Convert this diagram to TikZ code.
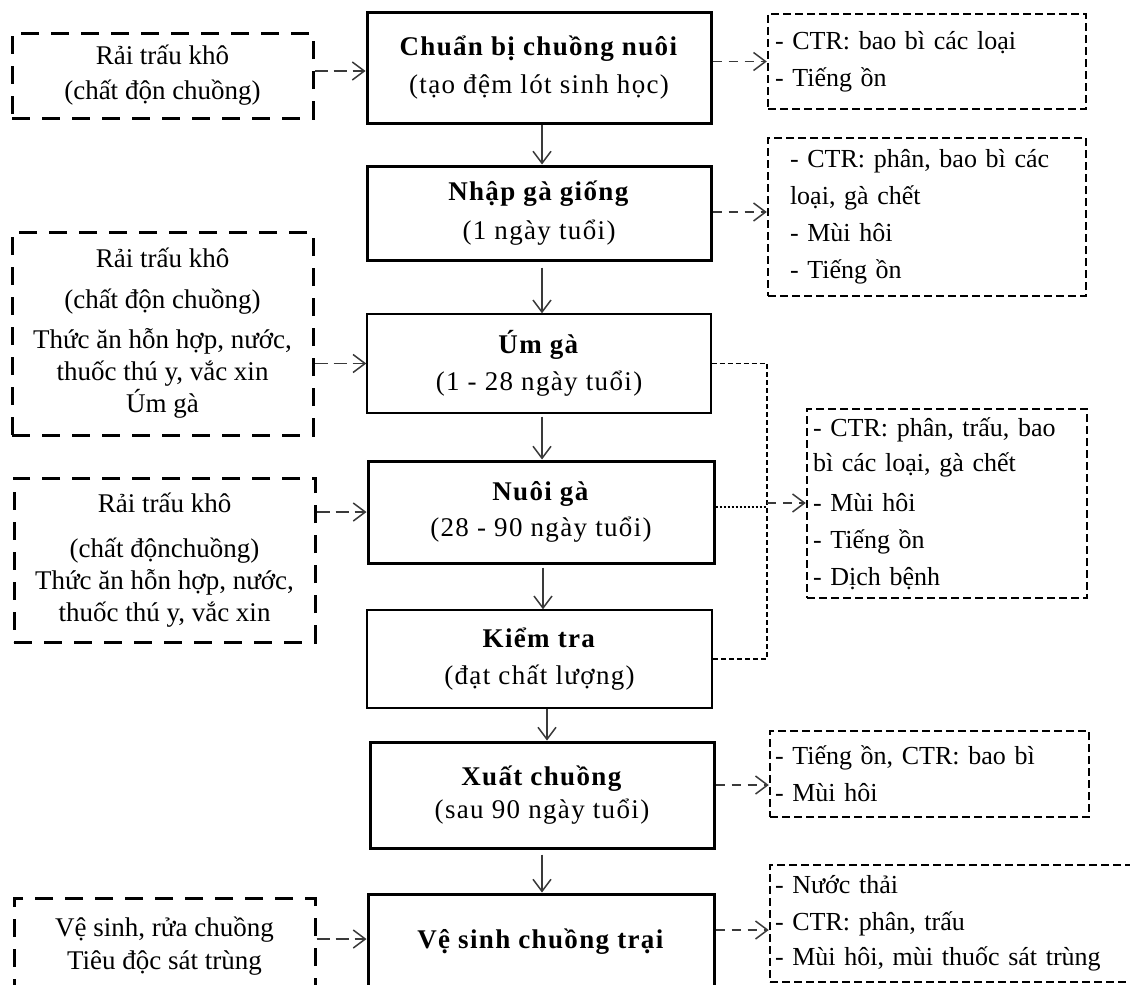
\documentclass[tikz,border=0pt]{standalone}
\usepackage{fontspec}
\setmainfont{Liberation Serif}
\newfontfamily\spacedserif{Liberation Serif}[LetterSpace=5]
\usetikzlibrary{arrows.meta,calc}
\definecolor{arrowgray}{HTML}{3A3A3A}
\tikzset{
  txt/.style={font=\fontsize{27}{37}\selectfont},
  maintxt/.style={font=\fontsize{27}{37}\selectfont\spacedserif},
  mainthick/.style={maintxt,draw=black,line width=3pt,align=center,inner sep=0pt},
  mainthin/.style={maintxt,draw=black,line width=1.4pt,align=center,inner sep=0pt},
  inbox/.style={txt,draw=black,line width=3pt,dash pattern=on 18pt off 12pt,align=center,inner sep=0pt},
  outbox/.style={font=\fontsize{26}{37}\selectfont,draw=black,line width=2.5pt,dash pattern=on 8pt off 4pt,align=left,inner ysep=0pt},
  flow/.style={draw=arrowgray,line width=1.5pt,-{Straight Barb[length=12pt,width=18pt,line width=1.5pt]}},
  inarrow/.style={flow,dash pattern=on 13pt off 6pt},
  outarrow/.style={flow,dash pattern=on 9pt off 7pt},
  bracketline/.style={draw=black,line width=1.5pt,dash pattern=on 5pt off 3pt},
  dotline/.style={draw=black,line width=2pt,dash pattern=on 2pt off 2pt},
}
\begin{document}
\begin{tikzpicture}[x=1pt,y=-1pt]
\useasboundingbox (0,0) rectangle (1130,985);
\clip (0,0) rectangle (1130,985);
\fill[white] (0,0) rectangle (1130,985);

% main column
\node[mainthick,minimum width=344pt,minimum height=111pt] (M1) at (539,67.5)
  {\textbf{Chuẩn bị chuồng nuôi}\\[1pt](tạo đệm lót sinh học)};
\node[mainthick,minimum width=344pt,minimum height=94pt] (M2) at (539,213)
  {\textbf{Nhập gà giống}\\[2pt](1 ngày tuổi)};
\node[mainthin,minimum width=344pt,minimum height=99pt] (M3) at (539,363.5)
  {\textbf{Úm gà}\\(1 - 28 ngày tuổi)};
\node[mainthick,minimum width=346pt,minimum height=102pt] (M4) at (541,512)
  {\textbf{Nuôi gà}\\[-1pt](28 - 90 ngày tuổi)};
\node[mainthin,minimum width=345pt,minimum height=98pt] (M5) at (539.5,659)
  {\textbf{Kiểm tra}\\(đạt chất lượng)};
\node[mainthick,minimum width=344pt,minimum height=106pt] (M6) at (542,795)
  {\textbf{Xuất chuồng}\\[-4pt](sau 90 ngày tuổi)};
\node[mainthick,minimum width=346pt,minimum height=96pt] (M7) at (541,942)
  {\textbf{Vệ sinh chuồng trại}};

% input boxes
\node[inbox,minimum width=301pt,minimum height=85pt] (L1) at (162.5,75.5)
  {Rải trấu khô\\[-2pt](chất độn chuồng)};
\node[inbox,minimum width=301pt,minimum height=203pt,font=\fontsize{27}{32}\selectfont] (L2) at (162.5,333.5)
  {Rải trấu khô\\[9pt](chất độn chuồng)\\[8pt]Thức ăn hỗn hợp, nước,\\thuốc thú y, vắc xin\\Úm gà};
\node[inbox,minimum width=301pt,minimum height=164pt,font=\fontsize{27}{32}\selectfont] (L3) at (164.5,560)
  {Rải trấu khô\\[13pt](chất độnchuồng)\\Thức ăn hỗn hợp, nước,\\thuốc thú y, vắc xin};
\node[inbox,minimum width=301pt,minimum height=97pt,font=\fontsize{27}{33}\selectfont] (L4) at (164.5,946.5)
  {Vệ sinh, rửa chuồng\\Tiêu độc sát trùng};

% output boxes
\node[outbox,inner xsep=7pt,text width=304pt,minimum height=95pt] (R1) at (927,61.5)
  {- CTR: bao bì các loại\\- Tiếng ồn};
\node[outbox,inner xsep=22pt,text width=274pt,minimum height=158pt] (R2) at (927,217)
  {- CTR: phân, bao bì các\\loại, gà chết\\- Mùi hôi\\- Tiếng ồn};
\node[outbox,inner xsep=6pt,text width=268pt,minimum height=189pt] (R3) at (947,503.5)
  {- CTR: phân, trấu, bao\\[-2pt]bì các loại, gà chết\\[3pt]- Mùi hôi\\- Tiếng ồn\\- Dịch bệnh};
\node[outbox,inner xsep=5pt,text width=309pt,minimum height=86pt] (R4) at (929.5,774)
  {- Tiếng ồn, CTR: bao bì\\- Mùi hôi};
\node[outbox,inner xsep=5pt,text width=365pt,minimum height=117pt] (R5) at (957.5,923.5)
  {- Nước thải\\- CTR: phân, trấu\\[-2pt]- Mùi hôi, mùi thuốc sát trùng};

% vertical flow
\draw[flow] ($(M1.south)+(3,0)$) coordinate (a1) -- (a1 |- M2.north);
\draw[flow] ($(M2.south)+(3,6)$) coordinate (a2) -- (a2 |- M3.north);
\draw[flow] ($(M3.south)+(3,3)$) coordinate (a3) -- (a3 |- M4.north);
\draw[flow] ($(M4.south)+(2,3)$) coordinate (a4) -- (a4 |- M5.north);
\draw[flow] ($(M5.south)+(7.5,0)$) coordinate (a5) -- (a5 |- M6.north);
\draw[flow] ($(M6.south)+(0,5)$) coordinate (a6) -- (a6 |- M7.north);

% inputs
\draw[inarrow] (L1.east |- 0,71) -- (M1.west |- 0,71);
\draw[inarrow] (L2.east |- M3.west) -- (M3.west);
\draw[inarrow] (L3.east |- M4.west) -- (M4.west);
\draw[inarrow] (L4.east |- 0,939) -- (M7.west |- 0,939);

% outputs
\draw[outarrow] (M1.east |- R1.west) -- (R1.west);
\draw[outarrow] (M2.east |- 0,212) -- (R2.west |- 0,212);
\draw[outarrow] (M6.east |- 0,785) -- (R4.west |- 0,785);
\draw[outarrow] (M7.east |- 0,930) -- (R5.west |- 0,930);

% bracket for Um ga / Nuoi ga / Kiem tra
\coordinate (bx) at (767,0);
\draw[bracketline] (M3.east) -- (M3.east -| bx) -- (M5.east -| bx) -- (M5.east);
\draw[dotline] (M4.east |- 0,507) -- (bx |- 0,507);
\draw[outarrow] (bx |- 0,503) -- (R3.west |- 0,503);
\end{tikzpicture}
\end{document}
